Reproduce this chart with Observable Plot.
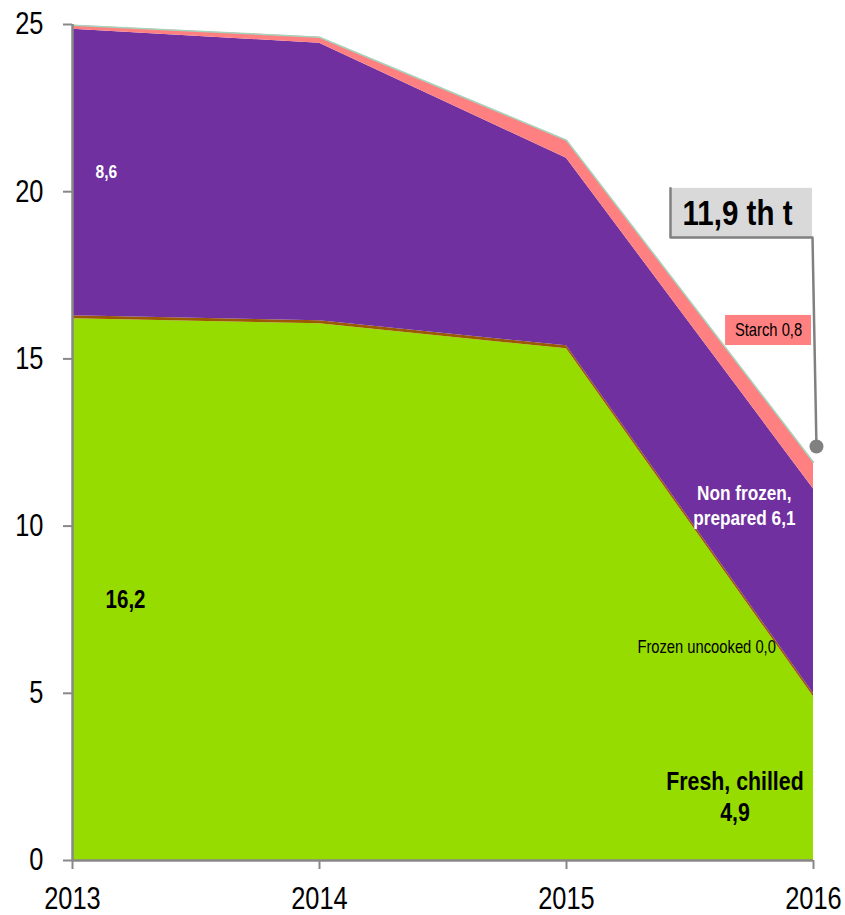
<!DOCTYPE html>
<html><head><meta charset="utf-8">
<script src="https://cdn.jsdelivr.net/npm/d3@7"></script>
<script src="https://cdn.jsdelivr.net/npm/@observablehq/plot@0.6"></script>
<style>body{margin:0;background:#fff}</style>
</head><body><div id="chart"></div>
<script>
// ---- data ----
const years = [2013, 2014, 2015, 2016];
const fresh = [16.2, 16.05, 15.3, 4.9];
const frozen = [0.09, 0.09, 0.09, 0.09];
const nonFrozen = [8.57, 8.3, 5.61, 6.12];
const starch = [0.12, 0.18, 0.54, 0.8];
const seriesNames = ["Fresh, chilled", "Frozen uncooked", "Non frozen, prepared", "Starch"];
const seriesColors = ["#97DC00", "#9C5A00", "#7030A0", "#FF8080"];
const yTicks = [0, 5, 10, 15, 20, 25];

const seriesValues = [fresh, frozen, nonFrozen, starch];
const table = [];
seriesNames.forEach((s, i) => years.forEach((y, j) => table.push({series: s, year: y, value: seriesValues[i][j]})));
const totals = years.map((y, j) => ({year: y, total: d3.sum(seriesValues, v => v[j])}));

const FONT = "'Liberation Sans', Arial, sans-serif";
const SX = 0.82;

const chart = Plot.plot({
  width: 845, height: 915,
  marginTop: 24, marginRight: 32, marginBottom: 55, marginLeft: 72,
  style: {fontFamily: FONT, background: "white", color: "black", overflow: "visible"},
  x: {domain: [2013, 2016], label: null},
  y: {domain: [0, 25], label: null},
  color: {domain: seriesNames, range: seriesColors},
  marks: [
    Plot.areaY(table, {x: "year", y: "value", z: "series", fill: "series", order: seriesNames}),
    Plot.lineY(totals, {x: "year", y: "total", stroke: "#A6D3BC", strokeWidth: 1.5}),
    Plot.ruleX([2013], {stroke: "#888", strokeWidth: 2.5}),
    Plot.ruleY([0], {stroke: "#888", strokeWidth: 2.5}),
    Plot.axisY({ticks: yTicks, label: null, tickSize: 9, tickPadding: 20, fontSize: 31, stroke: "#888", strokeWidth: 2, fill: "black"}),
    Plot.axisX({ticks: years, label: null, tickFormat: d => String(d), tickSize: 9, tickPadding: 17, fontSize: 31, stroke: "#888", strokeWidth: 2, fill: "black"}),
    // series labels
    Plot.text(["8,6"], {x: 2013.093, y: 20.6, text: d => d, textAnchor: "start", fontSize: 19, fontWeight: "bold", fill: "white"}),
    Plot.text(["16,2"], {x: 2013.134, y: 7.8, text: d => d, textAnchor: "start", fontSize: 25, fontWeight: "bold", fill: "black"}),
    Plot.text(["Non frozen,\nprepared 6,1"], {x: 2015.72, y: 10.65, text: d => d, textAnchor: "middle", fontSize: 21, fontWeight: "bold", fill: "white", lineHeight: 1.2}),
    Plot.text(["Frozen uncooked 0,0"], {x: 2015.287, y: 6.37, text: d => d, textAnchor: "start", fontSize: 18, fill: "black"}),
    Plot.text(["Fresh, chilled\n4,9"], {x: 2015.682, y: 1.95, text: d => d, textAnchor: "middle", fontSize: 26, fontWeight: "bold", fill: "black", lineHeight: 1.2}),
    // starch label
    Plot.rect([0], {x1: 2015.644, x2: 2015.992, y1: 15.40, y2: 16.30, fill: "#FF8080"}),
    Plot.text(["Starch 0,8"], {x: 2015.818, y: 15.85, text: d => d, fontSize: 18, fill: "black"}),
    // total callout
    Plot.rect([0], {x1: 2015.421, x2: 2015.996, y1: 18.63, y2: 20.10, fill: "#D9D9D9"}),
    Plot.line([[2015.421, 20.10], [2015.421, 18.63], [2015.996, 18.63], [2016.012, 12.38]], {stroke: "#808080", strokeWidth: 2.5}),
    Plot.dot([[2016.012, 12.38]], {r: 7, fill: "#808080"}),
    Plot.text(["11,9 th t"], {x: 2015.47, y: 19.35, text: d => d, textAnchor: "start", fontSize: 36, fontWeight: "bold", fill: "black"})
  ]
});
// condense all text horizontally (Arial Narrow look)
chart.querySelectorAll("text").forEach(t => {
  const tr = t.getAttribute("transform") || "";
  t.setAttribute("transform", (tr + ` scale(${SX},1)`).trim());
  const x = t.getAttribute("x");
  if (x != null && !isNaN(+x) && +x !== 0) t.setAttribute("x", +x / SX);
  t.querySelectorAll("tspan").forEach(s => {
    const sx = s.getAttribute("x");
    if (sx != null && !isNaN(+sx) && +sx !== 0) s.setAttribute("x", +sx / SX);
  });
});
document.getElementById("chart").append(chart);
</script>
</body></html>
